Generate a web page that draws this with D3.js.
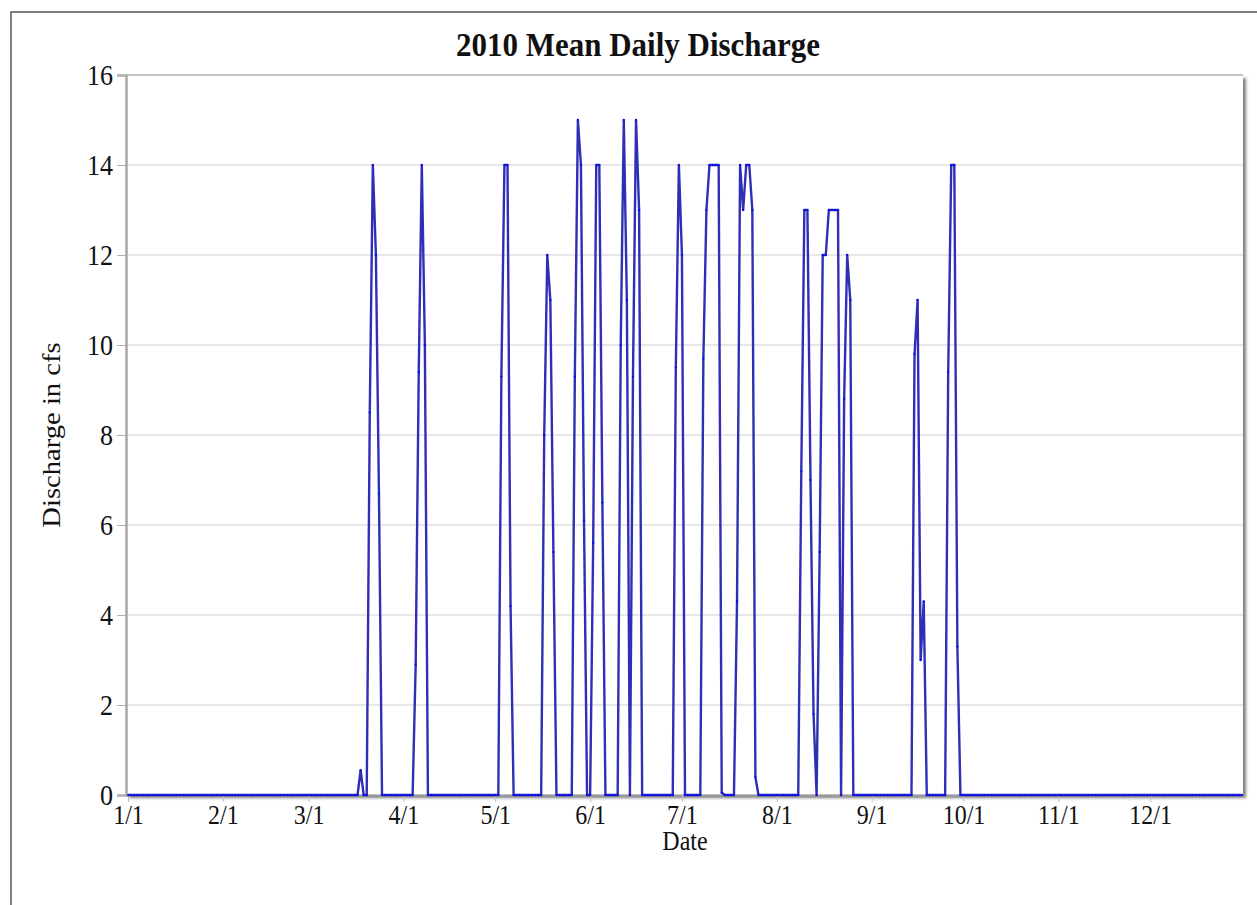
<!DOCTYPE html>
<html>
<head>
<meta charset="utf-8">
<script src="https://cdn.jsdelivr.net/npm/d3@7"></script>
<style>
  html, body { margin: 0; padding: 0; background: #fff; }
  svg { display: block; }
  text { font-family: "Liberation Serif", "Times New Roman", serif; fill: #111; }
</style>
</head>
<body>
<svg id="chart" width="1257" height="905"></svg>
<script>
// ---- Data: mean daily discharge (cfs), 2010, one value per day, by month ----
const year = 2010;
const jan = [0,0,0,0,0,0,0,0,0,0, 0,0,0,0,0,0,0,0,0,0, 0,0,0,0,0,0,0,0,0,0, 0];
const feb = [0,0,0,0,0,0,0,0,0,0, 0,0,0,0,0,0,0,0,0,0, 0,0,0,0,0,0,0,0];
const mar = [0,0,0,0,0,0,0,0,0,0, 0,0,0,0,0,0,0,0.55,0,0, 8.5,14,12,6.7,0,0,0,0,0,0, 0];
const apr = [0,0,0,0,2.9,9.4,14,10,0,0, 0,0,0,0,0,0,0,0,0,0, 0,0,0,0,0,0,0,0,0,0];
const may = [0,0,9.3,14,14,4.2,0,0,0,0, 0,0,0,0,0,0,8,12,11,5.4, 0,0,0,0,0,0,9.3,15,14,6.1, 0];
const jun = [0,5.6,14,14,6.5,0,0,0,0,0, 10,15,11,0,9.3,15,13,0,0,0, 0,0,0,0,0,0,0,0,9.5,14];
const jul = [12,0,0,0,0,0,0,9.7,13,14, 14,14,14,0.05,0,0,0,0,4.3,14, 13,14,14,13,0.4,0,0,0,0,0, 0];
const aug = [0,0,0,0,0,0,0,0,7.2,13, 13,7,1.8,0,5.4,12,12,13,13,13, 13,0,8.8,12,11,0,0,0,0,0, 0];
const sep = [0,0,0,0,0,0,0,0,0,0, 0,0,0,0,9.8,11,3,4.3,0,0, 0,0,0,0,0,9.4,14,14,3.3,0];
const oct = [0,0,0,0,0,0,0,0,0,0, 0,0,0,0,0,0,0,0,0,0, 0,0,0,0,0,0,0,0,0,0, 0];
const nov = [0,0,0,0,0,0,0,0,0,0, 0,0,0,0,0,0,0,0,0,0, 0,0,0,0,0,0,0,0,0,0];
const dec = [0,0,0,0,0,0,0,0,0,0, 0,0,0,0,0,0,0,0,0,0, 0,0,0,0,0,0,0,0,0,0, 0];
const months = [jan, feb, mar, apr, may, jun, jul, aug, sep, oct, nov, dec];

const yTicks = [0, 2, 4, 6, 8, 10, 12, 14, 16];
const xTickLabels = ["1/1","2/1","3/1","4/1","5/1","6/1","7/1","8/1","9/1","10/1","11/1","12/1"];
const titleText = "2010 Mean Daily Discharge";
const xTitle = "Date";
const yTitle = "Discharge in cfs";

// Build the daily table
const data = [];
months.forEach((vals, m) => vals.forEach((v, i) => data.push({ date: new Date(year, m, i + 1), value: v })));

// ---- Layout ----
const svg = d3.select("#chart");
const plot = { left: 126, right: 1243, top: 75, bottom: 795 };
const stretch = 1.1; // text in the reference is slightly taller than wide

const x = d3.scaleTime()
  .domain([new Date(year, 0, 1), new Date(year, 11, 31)])
  .range([128, 1242]);
const y = d3.scaleLinear().domain([0, 16]).range([plot.bottom, plot.top]);

// outer frame
svg.append("rect").attr("x", 11).attr("y", 12).attr("width", 1400).attr("height", 1200)
  .attr("fill", "none").attr("stroke", "#555").attr("stroke-width", 1.5);

// shadow filter
const defs = svg.append("defs");
const f = defs.append("filter").attr("id", "shadow").attr("x", "-5%").attr("y", "-5%").attr("width", "110%").attr("height", "110%");
f.append("feDropShadow").attr("dx", 3).attr("dy", 3).attr("stdDeviation", 1.5)
  .attr("flood-color", "#000").attr("flood-opacity", 0.5);

svg.append("rect")
  .attr("x", plot.left).attr("y", plot.top)
  .attr("width", plot.right - plot.left).attr("height", plot.bottom - plot.top)
  .attr("fill", "#fff").attr("filter", "url(#shadow)");

// gridlines
svg.append("g").selectAll("line").data(yTicks.filter(d => d > 0)).join("line")
  .attr("x1", plot.left).attr("x2", plot.right)
  .attr("y1", d => y(d)).attr("y2", d => y(d))
  .attr("stroke", d => d === 16 ? "#8a8a8a" : "#cfcfcf").attr("stroke-width", 1);

// Y axis
const yAxis = d3.axisLeft(y).tickValues(yTicks).tickSize(9).tickPadding(4).tickFormat(d3.format("d"));
const gy = svg.append("g").attr("transform", `translate(${plot.left},0)`).call(yAxis);
gy.select(".domain").attr("stroke", "#a8a8a8").attr("stroke-width", 2.5);
gy.selectAll(".tick line").attr("stroke", "#b0b0b0");
gy.selectAll(".tick text").attr("font-size", 26).attr("fill", "#111")
  .attr("font-family", "'Liberation Serif', 'Times New Roman', serif")
  .attr("transform", `scale(1,${stretch})`);

// X axis
const monthStarts = d3.range(12).map(m => new Date(year, m, 1));
const xAxis = d3.axisBottom(x).tickValues(monthStarts).tickSize(7).tickPadding(2)
  .tickFormat((d, i) => xTickLabels[i]);
const gx = svg.append("g").attr("transform", `translate(0,${plot.bottom})`).call(xAxis);
gx.select(".domain").attr("d", `M${plot.left},0H${plot.right}`).attr("stroke", "#a8a8a8").attr("stroke-width", 1.5);
gx.selectAll(".tick line").attr("stroke", "#c0c0c0");
gx.selectAll(".tick text").attr("font-size", 24).attr("fill", "#111")
  .attr("font-family", "'Liberation Serif', 'Times New Roman', serif")
  .attr("transform", `scale(1,${stretch})`);

// line
const line = d3.line().x(d => x(d.date)).y(d => y(d.value));
svg.append("path").datum(data)
  .attr("d", line).attr("fill", "none")
  .attr("stroke", "#2e2eb6").attr("stroke-width", 2.4).attr("stroke-linejoin", "round");

// point markers
svg.append("g").selectAll("circle").data(data).join("circle")
  .attr("cx", d => x(d.date)).attr("cy", d => y(d.value)).attr("r", 1.1)
  .attr("fill", "#0000ff");

// titles
function stretchedText(px, py, size, str) {
  return svg.append("text")
    .attr("transform", `translate(${px},${py}) scale(1,${stretch})`)
    .attr("text-anchor", "middle").attr("font-size", size).text(str);
}
stretchedText(638, 56, 31, titleText).attr("font-weight", "bold");
stretchedText(685, 850, 24, xTitle);
svg.append("text").attr("transform", `translate(60,435) scale(1,${stretch}) rotate(-90)`).attr("text-anchor", "middle")
  .attr("font-size", 26).text(yTitle);
</script>
</body>
</html>
